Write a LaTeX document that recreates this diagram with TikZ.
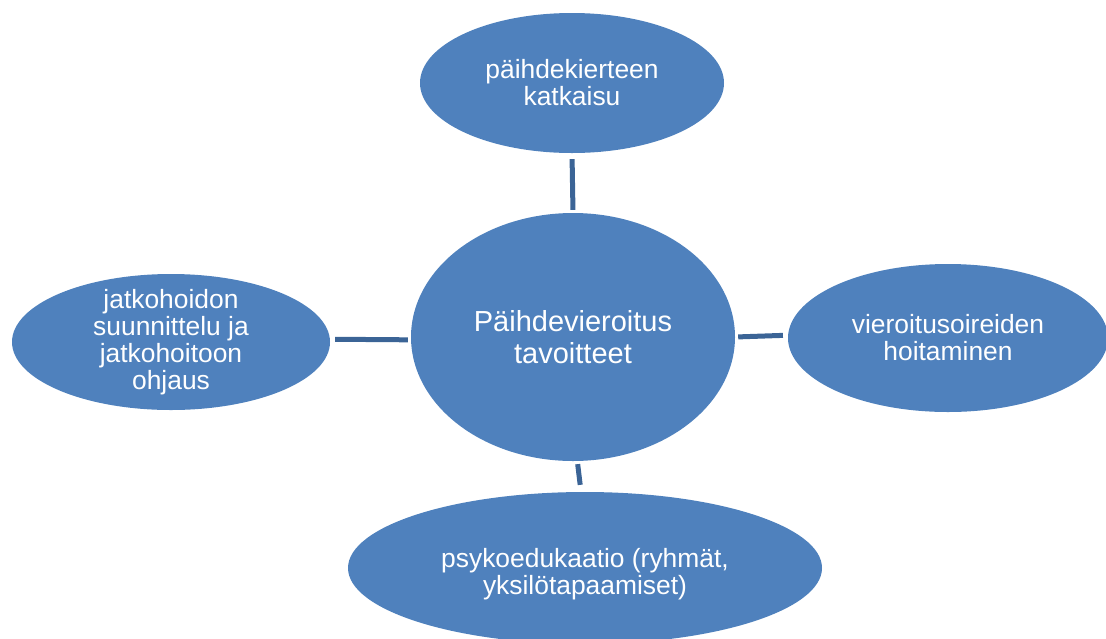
\documentclass[tikz,border=0pt]{standalone}
\usepackage{fontspec}
\setmainfont{Liberation Sans}
\usetikzlibrary{shapes.geometric}
\definecolor{bubble}{HTML}{4F81BD}
\definecolor{link}{HTML}{3B6496}
\tikzset{
  bubble/.style={ellipse, fill=bubble, draw=none, inner sep=0pt},
  lbl/.style={text=white, align=center, inner sep=0pt,
    font=\fontsize{26.4}{27}\selectfont},
  hublbl/.style={lbl, font=\fontsize{29}{32}\selectfont},
  link/.style={draw=link, line width=5pt}
}
\begin{document}
\begin{tikzpicture}[x=1pt, y=-1pt]
\useasboundingbox (0,0) rectangle (1106,638);

% goal bubbles
\node[bubble, minimum width=324pt, minimum height=248pt] (c) at (573,337) {};
\node[bubble, minimum width=304pt, minimum height=140pt] (t) at (572,83) {};
\node[bubble, minimum width=318pt, minimum height=136pt] (l) at (171,342) {};
\node[bubble, minimum width=320pt, minimum height=148pt] (r) at (948,338) {};
\node[bubble, minimum width=474pt, minimum height=152pt] (b) at (585,568) {};

% texts
\node[hublbl] (ct) at (c.center) {Päihdevieroitus\\tavoitteet};
\node[lbl] (tt) at (t.center) {päihdekierteen\\katkaisu};
\node[lbl] (lt) at (l.center) {jatkohoidon\\suunnittelu ja\\jatkohoitoon\\ohjaus};
\node[lbl] (rt) at (r.center) {vieroitusoireiden\\hoitaminen};
\node[lbl] (bt) at ([yshift=-6pt]b.center) {psykoedukaatio (ryhmät,\\yksilötapaamiset)};

% links
\draw[link, shorten <=6pt, shorten >=3pt] (t.south) -- (c.north);
\draw[link, shorten <=5pt, shorten >=3pt] (l.1) -- (c.181);
\draw[link, shorten <=3pt, shorten >=5pt] (c.0.5) -- (r.179.5);
\draw[link, shorten <=3pt, shorten >=7pt] (c.-88) -- (b.93);
\end{tikzpicture}
\end{document}
